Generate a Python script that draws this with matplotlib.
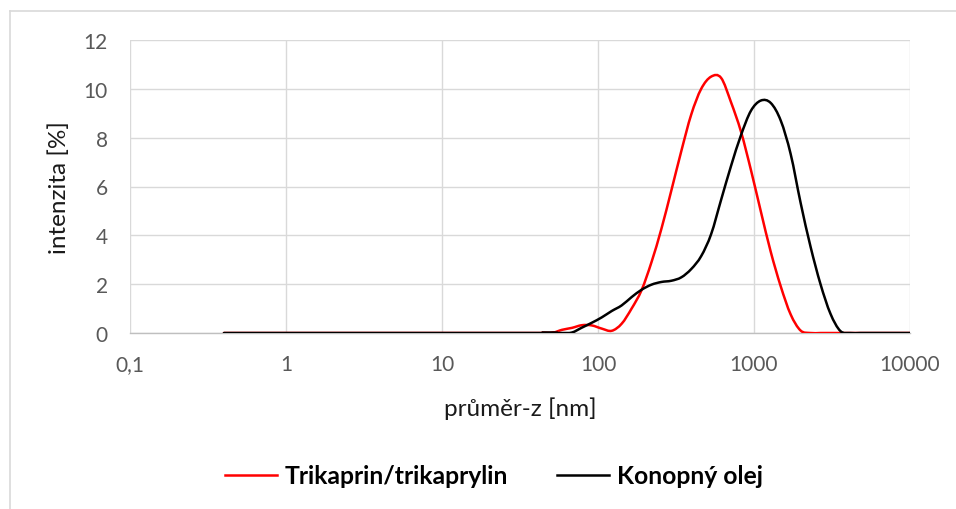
import numpy as np
import matplotlib
matplotlib.use("Agg")
from matplotlib import pyplot as plt
from matplotlib.path import Path
from matplotlib.patches import PathPatch
from matplotlib.lines import Line2D

# DLS size distribution (intensity) of two nanoemulsions

size_nm = [0.4, 37.84, 43.82, 50.75, 58.77, 68.06, 78.82, 91.28, 105.7, 122.4,
           141.8, 164.2, 190.1, 220.2, 255.0, 295.3, 342.0, 396.1, 458.7, 531.2,
           615.1, 712.4, 825.0, 955.4, 1106, 1281, 1484, 1718, 1990, 2305,
           2669, 3091, 3580, 4145, 4801, 5560, 6439, 7456, 8635, 10000]

trikaprin = [0, 0, 0, 0, 0.13, 0.21, 0.32, 0.31, 0.18, 0.09,
             0.38, 1.0, 1.75, 2.9, 4.27, 5.84, 7.45, 8.95, 10.0, 10.5,
             10.45, 9.45, 8.25, 6.68, 4.98, 3.32, 1.91, 0.76, 0.1, 0,
             0, 0, 0, 0, 0, 0, 0, 0, 0, 0]

konopny = [0, 0, 0, 0, 0, 0.02, 0.22, 0.42, 0.64, 0.9,
           1.13, 1.47, 1.77, 1.98, 2.09, 2.14, 2.28, 2.62, 3.15, 4.05,
           5.45, 6.84, 8.1, 9.1, 9.52, 9.42, 8.7, 7.33, 5.33, 3.53,
           2.0, 0.79, 0.08, 0, 0, 0, 0, 0, 0, 0]

series = [("Trikaprin/trikaprylin", trikaprin, "#ff0000"),
          ("Konopný olej", konopny, "#000000")]

x_ticks = [0.1, 1, 10, 100, 1000, 10000]
x_ticklabels = ["0,1", "1", "10", "100", "1000", "10000"]
y_ticks = [0, 2, 4, 6, 8, 10, 12]

plt.rcParams["font.family"] = ["Lato", "DejaVu Sans"]


def smooth_path(x, y):
    # spreadsheet-style smoothed line: cubic bezier through every point, built in log-x space
    u = np.log10(np.asarray(x, dtype=float))
    v = np.asarray(y, dtype=float)
    n = len(u)
    verts = [(u[0], v[0])]
    codes = [Path.MOVETO]
    for i in range(n - 1):
        a = max(i - 1, 0)
        b = min(i + 2, n - 1)
        c1 = (u[i] + (u[i + 1] - u[a]) / 6, v[i] + (v[i + 1] - v[a]) / 6)
        c2 = (u[i + 1] - (u[b] - u[i]) / 6, v[i + 1] - (v[b] - v[i]) / 6)
        verts += [c1, c2, (u[i + 1], v[i + 1])]
        codes += [Path.CURVE4] * 3
    verts = np.array(verts)
    verts[:, 0] = 10 ** verts[:, 0]
    return Path(verts, codes)


fig = plt.figure(figsize=(9.56, 5.10), dpi=100)
ax = fig.add_axes([130 / 956, 176 / 510, 780 / 956, 293 / 510])

ax.set_xscale("log")
ax.set_xlim(0.1, 10000)
ax.set_ylim(0, 12)

for label, values, color in series:
    ax.add_patch(PathPatch(smooth_path(size_nm, values), facecolor="none",
                           edgecolor=color, lw=1.8, capstyle="round", zorder=3))

ax.set_xticks(x_ticks)
ax.set_xticklabels(x_ticklabels)
ax.xaxis.set_minor_locator(matplotlib.ticker.NullLocator())
ax.set_yticks(y_ticks)
ax.tick_params(length=0, labelsize=15, labelcolor="#595959")
ax.tick_params(axis="x", pad=15)
ax.tick_params(axis="y", pad=16)

ax.grid(True, color="#d9d9d9", lw=1.0)
for side in ["top", "right", "left"]:
    ax.spines[side].set_visible(False)
ax.spines["bottom"].set_color("#bfbfbf")
ax.spines["bottom"].set_linewidth(1.0)

ax.set_xlabel("průměr-z [nm]", fontsize=17.5, color="#1a1a1a")
ax.set_ylabel("intenzita [%]", fontsize=17.5, color="#1a1a1a")
ax.xaxis.set_label_coords(0.5, -0.215)
ax.yaxis.set_label_coords(-0.077, 0.5)

handles = [Line2D([], [], color=c, lw=1.8) for _, _, c in series]
fig.legend(handles, [s[0] for s in series], loc="center", ncol=2,
           bbox_to_anchor=(494 / 956, 1 - 477 / 510), frameon=False,
           prop={"size": 17.8, "weight": "bold"}, handlelength=2.1,
           handletextpad=0.3, columnspacing=2.0)

# chart area outline
fig.add_artist(Line2D([10 / 956, 1], [1 - 12 / 510] * 2, color="#d9d9d9", lw=1.2))
fig.add_artist(Line2D([10 / 956] * 2, [0, 1 - 12 / 510], color="#d9d9d9", lw=1.2))

fig.savefig("out.png", dpi=100)
